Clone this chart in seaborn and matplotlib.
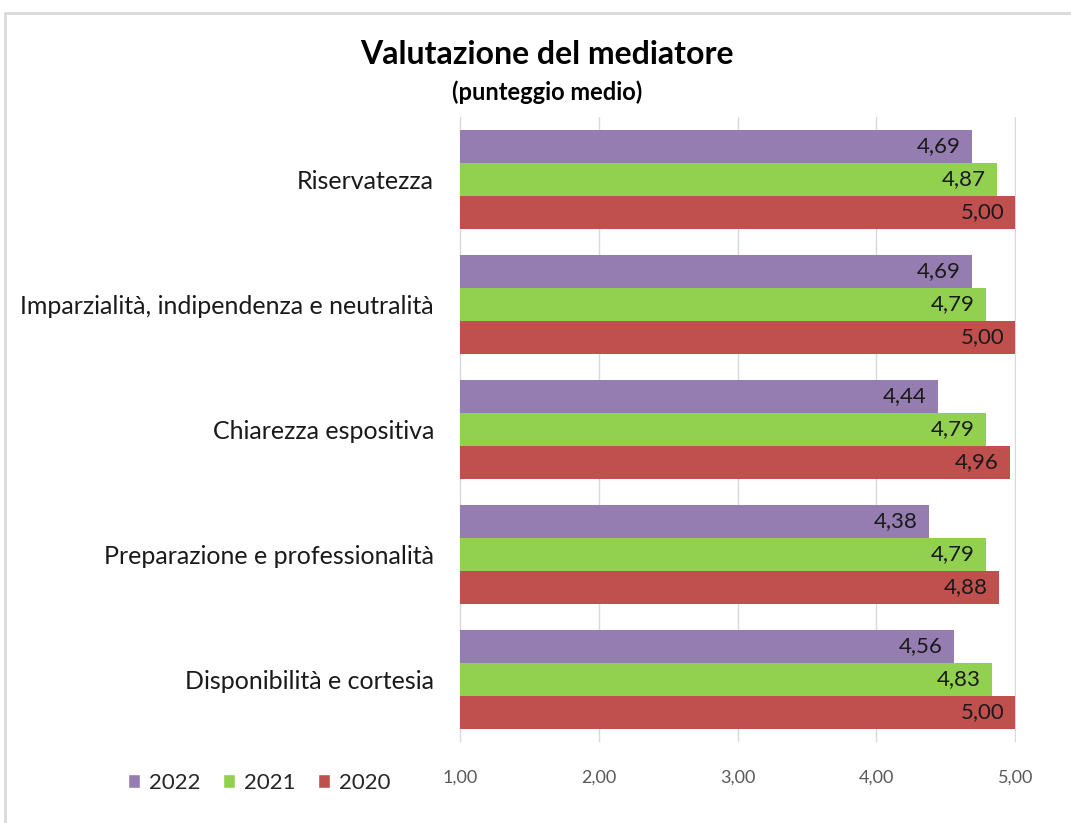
import numpy as np
import pandas as pd
import matplotlib
matplotlib.use("Agg")
import matplotlib.pyplot as plt
import seaborn as sns
from matplotlib.patches import Patch, Rectangle


# ----------------------- Data
categories = [
    "Riservatezza",
    "Imparzialità, indipendenza e neutralità",
    "Chiarezza espositiva",
    "Preparazione e professionalità",
    "Disponibilità e cortesia",
]
years = ["2022", "2021", "2020"]
vals_2022 = [4.69, 4.69, 4.44, 4.38, 4.56]
vals_2021 = [4.87, 4.79, 4.79, 4.79, 4.83]
vals_2020 = [5.00, 5.00, 4.96, 4.88, 5.00]
xticks = [1, 2, 3, 4, 5]

colors = {"2022": "#957DB1", "2021": "#92D050", "2020": "#C0504D"}

df = pd.DataFrame({
    "Categoria": categories * 3,
    "Anno": ["2022"] * 5 + ["2021"] * 5 + ["2020"] * 5,
    "Valore": vals_2022 + vals_2021 + vals_2020,
})


def fmt(v):
    return f"{v:.2f}".replace(".", ",")


# ----------------------- Plot
sns.set_theme(style="white")
plt.rcParams["font.family"] = ["Lato", "DejaVu Sans"]

fig = plt.figure(figsize=(10.71, 8.23), dpi=100)
ax = fig.add_axes([459 / 1071, 1 - 742 / 823, (1016 - 459) / 1071, (742 - 117) / 823])

sns.barplot(
    data=df, y="Categoria", x="Valore", hue="Anno",
    order=categories, hue_order=years, palette=colors,
    orient="h", width=0.79, saturation=1, linewidth=0, ax=ax, legend=False,
)

# bars start at 1,00 like the original
for bar in ax.patches:
    w = bar.get_width()
    bar.set_x(1)
    bar.set_width(w - 1)

for cont in ax.containers:
    for bar, v in zip(cont, cont.datavalues):
        ax.annotate(fmt(v), (v, bar.get_y() + bar.get_height() / 2),
                    xytext=(-8, 0), textcoords="offset points",
                    ha="right", va="center", fontsize=16, color="#1a1a1a")

ax.set_ylim(4.5, -0.5)
ax.set_xticks(xticks)
ax.set_xticklabels([fmt(t) for t in xticks], color="#595959", fontsize=13)
ax.tick_params(axis="x", length=0, pad=20)
ax.tick_params(axis="y", length=0, pad=18, labelsize=18, labelcolor="#1a1a1a")
ax.set_xlabel("")
ax.set_ylabel("")
ax.xaxis.grid(True, color="#d9d9d9", linewidth=1)
ax.set_axisbelow(True)
for sp in ax.spines.values():
    sp.set_visible(False)
ax.set_xlim(0.995, 5.005)

# ----------------------- Title
fig.text(547 / 1071, 1 - 55 / 823, "Valutazione del mediatore", ha="center", va="center",
         fontsize=23, fontweight="bold", color="black")
fig.text(547 / 1071, 1 - 92 / 823, "(punteggio medio)", ha="center", va="center",
         fontsize=17, fontweight="bold", color="black")

# ----------------------- Legend
handles = [Patch(facecolor=colors[y], label=y) for y in years]
fig.legend(handles=handles, loc="center", bbox_to_anchor=(259 / 1071, 1 - 783 / 823),
           ncol=3, frameon=False, fontsize=16, handlelength=0.55, handleheight=0.55,
           handletextpad=0.4, columnspacing=1.0)

# ----------------------- Chart frame
fig.add_artist(Rectangle((5 / 1071, -0.05), 1.2, 1 - 13 / 823 + 0.05, transform=fig.transFigure,
                         fill=False, edgecolor="#d9d9d9", linewidth=2))

fig.savefig("out.png", dpi=100)
